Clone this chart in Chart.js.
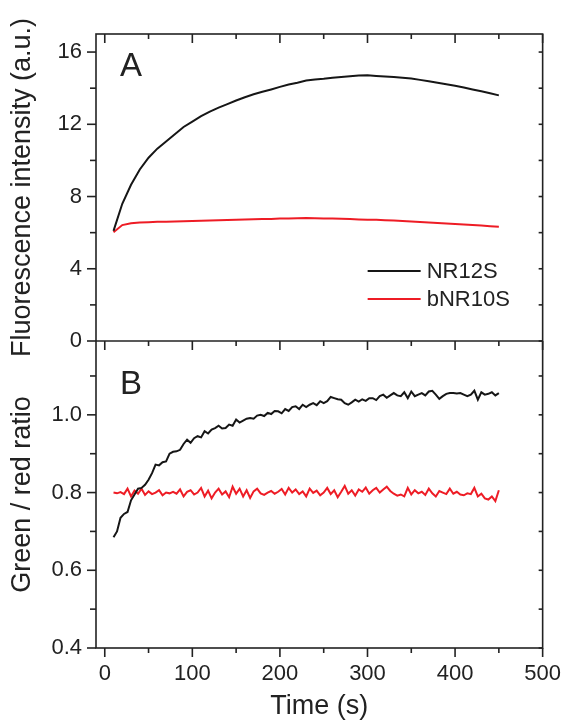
<!DOCTYPE html>
<html>
<head>
<meta charset="utf-8">
<script src="https://cdn.jsdelivr.net/npm/chart.js@4.4.1/dist/chart.umd.min.js"></script>
<style>
  body { margin: 0; background: #fff; }
  canvas { display: block; }
</style>
</head>
<body>
<canvas id="ourChart" width="574" height="725"></canvas>
<script>
// panel A: fluorescence intensity (a.u.)
let timeA = [10, 20, 30, 40, 50, 60, 70, 80, 90, 100,
    110, 120, 130, 140, 150, 160, 170, 180, 190, 200,
    210, 220, 230, 240, 250, 260, 270, 280, 290, 300,
    310, 320, 330, 340, 350, 360, 370, 380, 390, 400,
    410, 420, 430, 440, 450];
let nr12sIntensity = [6.1, 7.6, 8.65, 9.5, 10.15, 10.65, 11.05, 11.45, 11.85, 12.15,
    12.45, 12.7, 12.92, 13.12, 13.32, 13.5, 13.66, 13.8, 13.93, 14.07,
    14.2, 14.3, 14.42, 14.48, 14.52, 14.58, 14.62, 14.66, 14.7, 14.71,
    14.68, 14.65, 14.62, 14.58, 14.54, 14.46, 14.38, 14.3, 14.22, 14.13,
    14.04, 13.93, 13.83, 13.72, 13.6];
let bnr10sIntensity = [6.02, 6.42, 6.52, 6.56, 6.58, 6.6, 6.61, 6.62, 6.63, 6.64,
    6.66, 6.67, 6.68, 6.7, 6.71, 6.73, 6.74, 6.75, 6.76, 6.78,
    6.79, 6.8, 6.81, 6.8, 6.79, 6.78, 6.77, 6.75, 6.73, 6.72,
    6.71, 6.69, 6.67, 6.65, 6.62, 6.59, 6.56, 6.54, 6.51, 6.48,
    6.45, 6.42, 6.39, 6.35, 6.32];

// panel B: green / red ratio
let timeB = [10, 14, 18, 22, 26, 30, 34, 38, 42, 46,
    50, 54, 58, 62, 66, 70, 74, 78, 82, 86,
    90, 94, 98, 102, 106, 110, 114, 118, 122, 126,
    130, 134, 138, 142, 146, 150, 154, 158, 162, 166,
    170, 174, 178, 182, 186, 190, 194, 198, 202, 206,
    210, 214, 218, 222, 226, 230, 234, 238, 242, 246,
    250, 254, 258, 262, 266, 270, 274, 278, 282, 286,
    290, 294, 298, 302, 306, 310, 314, 318, 322, 326,
    330, 334, 338, 342, 346, 350, 354, 358, 362, 366,
    370, 374, 378, 382, 386, 390, 394, 398, 402, 406,
    410, 414, 418, 422, 426, 430, 434, 438, 442, 446,
    450];
let nr12sRatio = [0.685, 0.70, 0.735, 0.745, 0.75, 0.78, 0.795, 0.81, 0.812, 0.82,
    0.833, 0.85, 0.872, 0.87, 0.878, 0.88, 0.90, 0.905, 0.906, 0.91,
    0.925, 0.936, 0.928, 0.94, 0.945, 0.942, 0.958, 0.952, 0.962, 0.966,
    0.972, 0.965, 0.966, 0.975, 0.972, 0.988, 0.98, 0.985, 0.99, 0.992,
    0.99, 0.998, 1.0, 0.997, 1.005, 1.002, 1.01, 1.009, 1.004, 1.015,
    1.01, 1.02, 1.022, 1.015, 1.026, 1.02, 1.026, 1.03, 1.025, 1.035,
    1.03, 1.035, 1.046, 1.043, 1.04, 1.039, 1.03, 1.026, 1.032, 1.039,
    1.034, 1.04, 1.036, 1.043, 1.043, 1.038, 1.048, 1.052, 1.044, 1.05,
    1.056, 1.05, 1.048, 1.058, 1.043, 1.06, 1.048, 1.052, 1.056, 1.05,
    1.06, 1.062, 1.052, 1.041, 1.048, 1.054, 1.056, 1.056, 1.055, 1.056,
    1.052, 1.048, 1.052, 1.062, 1.039, 1.058, 1.052, 1.054, 1.058, 1.05,
    1.056];
let bnr10sRatio = [0.80, 0.798, 0.801, 0.796, 0.81, 0.79, 0.805, 0.797, 0.81, 0.794,
    0.803, 0.796, 0.80, 0.806, 0.793, 0.80, 0.798, 0.802, 0.797, 0.808,
    0.79, 0.802, 0.806, 0.795, 0.80, 0.812, 0.79, 0.805, 0.785, 0.80,
    0.81, 0.795, 0.803, 0.788, 0.815, 0.797, 0.81, 0.79, 0.806, 0.786,
    0.803, 0.81, 0.798, 0.794, 0.80, 0.804, 0.797, 0.802, 0.809, 0.795,
    0.812, 0.80, 0.808, 0.796, 0.803, 0.79, 0.81, 0.799, 0.805, 0.793,
    0.80, 0.812, 0.796, 0.806, 0.788, 0.802, 0.817, 0.797, 0.806, 0.792,
    0.808, 0.802, 0.813, 0.797, 0.806, 0.812, 0.80, 0.808, 0.815, 0.804,
    0.797, 0.792, 0.795, 0.79, 0.812, 0.795, 0.806, 0.798, 0.802, 0.794,
    0.81, 0.798, 0.79, 0.804, 0.80, 0.796, 0.81, 0.797, 0.802, 0.795,
    0.793, 0.798, 0.796, 0.812, 0.79, 0.797, 0.785, 0.782, 0.79, 0.778,
    0.806];

let timeTicks = [0, 100, 200, 300, 400, 500];
let seriesNames = ["NR12S", "bNR10S"];
let seriesColors = ["#161616", "#ee1c25"];
let panelNames = ["A", "B"];

const FONT = '"Liberation Sans", Arial, Helvetica, sans-serif';
const INK = '#222';

function toPoints(xs, ys) {
    return xs.map((x, i) => ({ x: x, y: ys[i] }));
}

function lineSet(label, xs, ys, color, yAxis) {
    return {
        label: label,
        data: toPoints(xs, ys),
        yAxisID: yAxis,
        borderColor: color,
        borderWidth: 2,
        pointRadius: 0,
        tension: 0,
        fill: false
    };
}

// frame, ticks, panel letters and the legend
const framePlugin = {
    id: 'frame',
    afterDraw(chart) {
        const ctx = chart.ctx;
        const area = chart.chartArea;
        const x = chart.scales.x, yA = chart.scales.yA, yB = chart.scales.yB;
        const sep = yA.bottom;
        ctx.save();
        ctx.strokeStyle = INK;
        ctx.lineWidth = 1.6;
        ctx.strokeRect(area.left, area.top, area.width, area.height);
        function tick(x1, y1, x2, y2) {
            ctx.beginPath();
            ctx.moveTo(x1, y1);
            ctx.lineTo(x2, y2);
            ctx.stroke();
        }
        tick(area.left, sep, area.right, sep);

        for (let t = 0; t <= 500; t += 50) {
            const px = x.getPixelForValue(t);
            const len = t % 100 === 0 ? 9 : 5;
            tick(px, area.bottom, px, area.bottom + len);
            tick(px, area.top, px, area.top + len);
            tick(px, sep, px, sep + len);
        }
        for (let v = 0; v <= 16; v += 2) {
            const py = yA.getPixelForValue(v);
            tick(area.left, py, area.left - (v % 4 === 0 ? 9 : 6), py);
            tick(area.right, py, area.right - 4, py);
        }
        for (let k = 4; k <= 11; k++) {
            const py = yB.getPixelForValue(k / 10);
            tick(area.left, py, area.left - (k % 2 === 0 ? 9 : 6), py);
            tick(area.right, py, area.right - 4, py);
        }

        ctx.fillStyle = INK;
        ctx.textBaseline = 'middle';
        ctx.textAlign = 'left';
        ctx.font = '33px ' + FONT;
        ctx.fillText(panelNames[0], area.left + 24, yA.top + 33);
        ctx.fillText(panelNames[1], area.left + 24, yB.top + 44);

        ctx.font = '22px ' + FONT;
        ctx.lineWidth = 2;
        for (let i = 0; i < seriesNames.length; i++) {
            const ly = sep - 70 + i * 28;
            ctx.strokeStyle = seriesColors[i];
            tick(area.right - 175, ly, area.right - 122, ly);
            ctx.fillText(seriesNames[i], area.right - 116, ly + 1);
        }
        ctx.restore();
    }
};

let ourCanvas = document.getElementById('ourChart');

new Chart(ourCanvas, {
    type: 'line',
    data: {
        datasets: [
            lineSet(seriesNames[0], timeA, nr12sIntensity, seriesColors[0], 'yA'),
            lineSet(seriesNames[1], timeA, bnr10sIntensity, seriesColors[1], 'yA'),
            lineSet(seriesNames[0], timeB, nr12sRatio, seriesColors[0], 'yB'),
            lineSet(seriesNames[1], timeB, bnr10sRatio, seriesColors[1], 'yB')
        ]
    },
    options: {
        responsive: false,
        animation: false,
        layout: { padding: { left: 0, top: 34, right: 21, bottom: 0 } },
        plugins: {
            legend: { display: false },
            tooltip: { enabled: false }
        },
        scales: {
            x: {
                type: 'linear',
                position: 'bottom',
                min: -10,
                max: 500,
                grid: { display: false, drawTicks: false },
                border: { display: false },
                afterBuildTicks: (s) => { s.ticks = timeTicks.map(v => ({ value: v })); },
                ticks: {
                    maxRotation: 0,
                    autoSkip: false,
                    padding: 13,
                    color: INK,
                    font: { family: FONT, size: 22 }
                },
                title: {
                    display: true,
                    text: 'Time (s)',
                    color: INK,
                    padding: { top: 0, bottom: 2 },
                    font: { family: FONT, size: 27 }
                },
                afterFit: (s) => { s.height = 77; }
            },
            // listed bottom panel first: the layout puts the later one on top
            yB: {
                type: 'linear',
                position: 'left',
                stack: 'panels',
                stackWeight: 1,
                min: 0.4,
                max: 1.19,
                grid: { display: false, drawTicks: false },
                border: { display: false },
                ticks: {
                    stepSize: 0.2,
                    includeBounds: false,
                    padding: 14,
                    color: INK,
                    font: { family: FONT, size: 22 },
                    callback: (v) => v.toFixed(1)
                },
                title: {
                    display: true,
                    text: 'Green / red ratio',
                    color: INK,
                    padding: { top: 6, bottom: 0 },
                    font: { family: FONT, size: 27 }
                },
                afterFit: (s) => { s.width = 96; }
            },
            yA: {
                type: 'linear',
                position: 'left',
                stack: 'panels',
                stackWeight: 1,
                min: 0,
                max: 17,
                grid: { display: false, drawTicks: false },
                border: { display: false },
                ticks: {
                    stepSize: 4,
                    includeBounds: false,
                    padding: 14,
                    color: INK,
                    font: { family: FONT, size: 22 }
                },
                title: {
                    display: true,
                    text: 'Fluorescence intensity (a.u.)',
                    color: INK,
                    padding: { top: 6, bottom: 0 },
                    font: { family: FONT, size: 27 }
                },
                afterFit: (s) => { s.width = 96; }
            }
        }
    },
    plugins: [framePlugin]
});
</script>
</body>
</html>
